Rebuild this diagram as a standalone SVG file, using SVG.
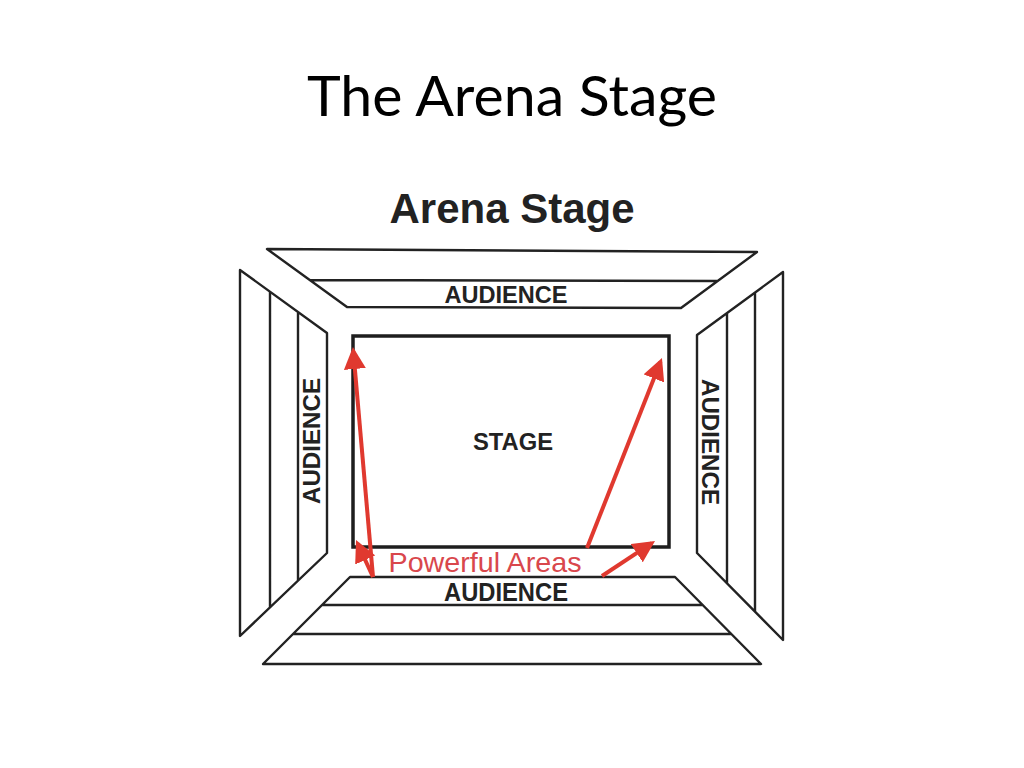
<svg xmlns="http://www.w3.org/2000/svg" width="1024" height="768" viewBox="0 0 1024 768">
<defs>
<style>
.sec{fill:none;stroke:#222;stroke-width:2.4;stroke-linejoin:round}
.stage{fill:none;stroke:#1e1e1e;stroke-width:3.5}
.lbl{font-family:"Liberation Sans",Arial,sans-serif;font-weight:bold;fill:#222;text-anchor:middle}
.arr{stroke:#e0392f;stroke-width:4;fill:none;marker-end:url(#ah)}
</style>
<marker id="ah" viewBox="0 0 22 22" refX="18" refY="11" markerWidth="22" markerHeight="22" markerUnits="userSpaceOnUse" orient="auto">
<path d="M0,0 L22,11 L0,22 z" fill="#e0392f"/>
</marker>
</defs>
<rect width="1024" height="768" fill="#fff"/>
<text x="512" y="116" font-family="Lato,'Open Sans',sans-serif" font-size="57" fill="#000" text-anchor="middle" textLength="410" lengthAdjust="spacingAndGlyphs">The Arena Stage</text>
<text x="512" y="223" class="lbl" font-size="42" fill="#1a1a1a" textLength="245" lengthAdjust="spacingAndGlyphs">Arena Stage</text>

<g id="audience-top">
<path class="sec" d="M267,249 L757,252 L681,308 L347,307 Z M310,280 L718,281"/>
<text x="506" y="303" class="lbl" font-size="23" textLength="123" lengthAdjust="spacingAndGlyphs">AUDIENCE</text>
</g>
<g id="audience-left">
<path class="sec" d="M240,270 L327,333 L327,553 L240,636 Z M270,292 L270,607 M298,312 L298,581"/>
<text transform="translate(320,441) rotate(-90)" x="0" y="0" class="lbl" font-size="24" textLength="126" lengthAdjust="spacingAndGlyphs">AUDIENCE</text>
</g>
<g id="audience-right">
<path class="sec" d="M783,272 L697,335 L697,553 L783,640 Z M727,313 L727,583 M755,293 L755,611"/>
<text transform="translate(702,442) rotate(90)" x="0" y="0" class="lbl" font-size="24" textLength="126" lengthAdjust="spacingAndGlyphs">AUDIENCE</text>
</g>
<g id="audience-bottom">
<path class="sec" d="M350,577 L675,577 L761,664 L263,664 Z M322,605 L703,605 M293,634 L731,634"/>
<text x="506" y="601" class="lbl" font-size="25" textLength="124" lengthAdjust="spacingAndGlyphs">AUDIENCE</text>
</g>
<g id="stage">
<rect class="stage" x="353" y="336" width="316" height="211"/>
<text x="513" y="450" class="lbl" font-size="24" textLength="80" lengthAdjust="spacingAndGlyphs">STAGE</text>
</g>
<g id="powerful-areas">
<text x="485" y="572" font-family="'Liberation Sans',Arial,sans-serif" font-size="28" fill="#d9474c" text-anchor="middle" textLength="193" lengthAdjust="spacingAndGlyphs">Powerful Areas</text>
</g>
<g id="connectors">
<line class="arr" x1="373" y1="577" x2="353.3" y2="351"/>
<line class="arr" x1="373" y1="577" x2="357.7" y2="543.6"/>
<line class="arr" x1="587" y1="548" x2="660.5" y2="361.7"/>
<line class="arr" x1="602" y1="576" x2="651.7" y2="543.2"/>
</g>
</svg>
